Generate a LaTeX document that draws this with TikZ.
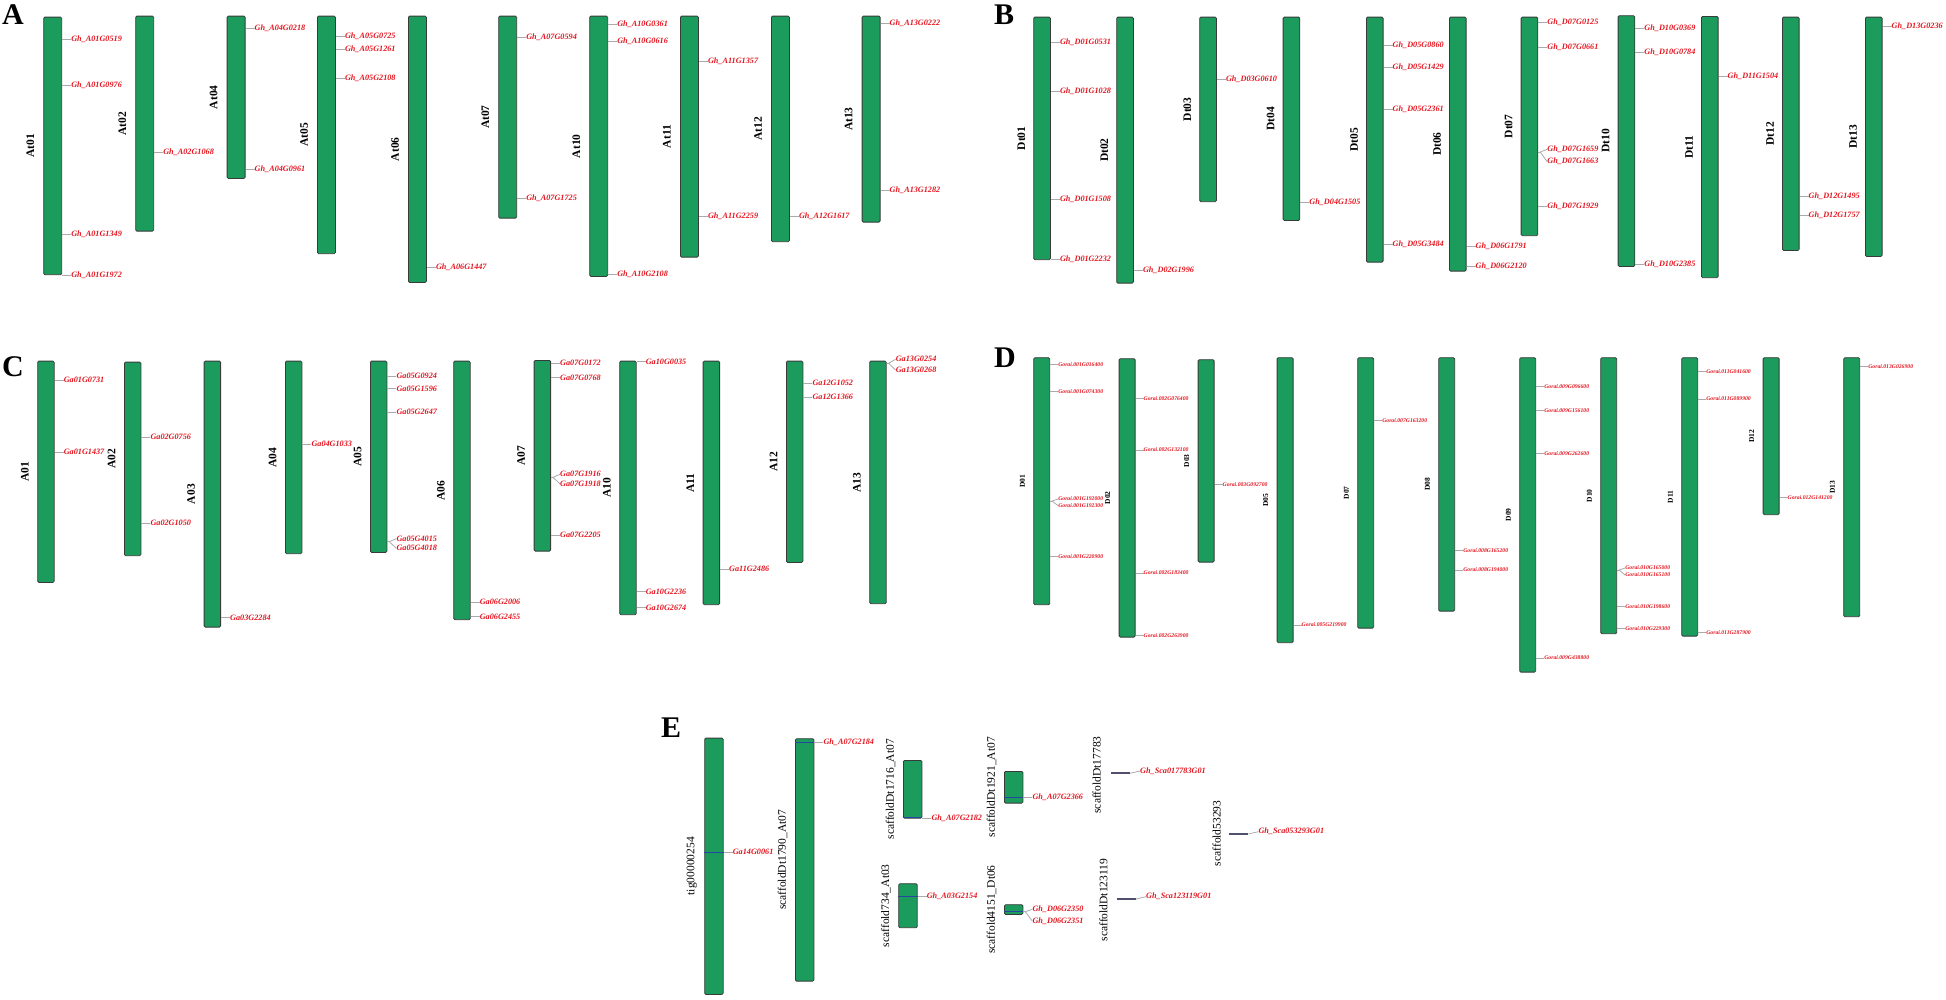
\documentclass[tikz,border=0pt]{standalone}
\usepackage{fontspec}
\setmainfont{Liberation Serif}
\definecolor{chrgreen}{RGB}{28,156,92}
\definecolor{chrborder}{RGB}{55,60,58}
\definecolor{genered}{RGB}{228,22,32}
\definecolor{tickgray}{RGB}{170,170,170}
\definecolor{hitblue}{RGB}{40,70,160}
\definecolor{scafgray}{RGB}{80,80,110}

\tikzset{
  chrom/.style={draw=chrborder, fill=chrgreen, line width=0.8pt, rounded corners=1.2pt,
    minimum width=18pt, inner sep=0pt},
  chrlab/.style={rotate=90, inner sep=0pt, font=\fontsize{11.5}{12}\selectfont\bfseries},
  gene/.style={anchor=west, xshift=9pt, inner sep=0pt, text=genered,
    font=\fontsize{8.2}{9}\selectfont\bfseries\itshape},
  genetick/.style={draw=tickgray, line width=0.8pt},
  hitline/.style={draw=hitblue, line width=0.9pt},
  scafline/.style={draw=scafgray, line width=1.8pt},
  panel/.style={anchor=base west, inner sep=0pt, font=\fontsize{30}{30}\selectfont\bfseries}
}

\begin{document}
\begin{tikzpicture}[x=1pt, y=-1pt]
\newcommand{\laboff}{13pt}
\newcommand{\chrom}[5]{%
  \node[chrom, minimum height={#4-#3}, anchor=north west] (#1) at (#2,#3) {};
  \node[chrlab] (#1-lab) at ([xshift=-\laboff]#1.west) {#5};}
\newcommand{\genes}[2]{%
  \foreach \gy/\gname [count=\gi] in {#2} {
    \coordinate (#1-t\gi) at (#1.east |- 0,\gy);
    \node[gene] (#1-g\gi) at (#1-t\gi) {\gname};
    \draw[genetick] (#1-t\gi) -- (#1-g\gi.west);}}
\newcommand{\genepair}[6]{%
  \coordinate (#1-s) at (#1.east |- 0,#2);
  \coordinate (#1-s1) at (#1.east |- 0,#3);
  \coordinate (#1-s2) at (#1.east |- 0,#5);
  \node[gene] (#1-p1) at (#1-s1) {#4};
  \node[gene] (#1-p2) at (#1-s2) {#6};
  \draw[genetick] (#1-p1.west) -- ([xshift=2pt]#1-s) -- (#1-p2.west);
  \draw[genetick] (#1-s) -- ([xshift=2pt]#1-s);}
\newcommand{\hit}[2]{\draw[hitline] (#1.west |- 0,#2) -- (#1.east |- 0,#2);}

\useasboundingbox (0,0) rectangle (1946,999);

\node[panel] (pA) at (2,24) {A};
\node[panel] (pB) at (994,24) {B};
\node[panel] (pC) at (2,376) {C};
\node[panel] (pD) at (994,367) {D};
\node[panel] (pE) at (661,737) {E};

% A
\chrom{At01}{43.3}{16.7}{274.3}{At01}
\genes{At01}{39/Gh\_A01G0519, 85.7/Gh\_A01G0976, 234/Gh\_A01G1349, 275/Gh\_A01G1972}
\chrom{At02}{135.3}{15.7}{230.7}{At02}
\genes{At02}{152.7/Gh\_A02G1068}
\chrom{At04}{226.7}{15.7}{178}{At04}
\genes{At04}{28/Gh\_A04G0218, 169.7/Gh\_A04G0961}
\chrom{At05}{317}{15.7}{253.3}{At05}
\genes{At05}{36/Gh\_A05G0725, 49.7/Gh\_A05G1261, 78.3/Gh\_A05G2108}
\chrom{At06}{408}{15.7}{282}{At06}
\genes{At06}{267.7/Gh\_A06G1447}
\chrom{At07}{498.3}{15.7}{217.7}{At07}
\genes{At07}{37.7/Gh\_A07G0594, 198.7/Gh\_A07G1725}
\chrom{At10}{589.3}{15.7}{276}{At10}
\genes{At10}{24.7/Gh\_A10G0361, 41.3/Gh\_A10G0616, 274.3/Gh\_A10G2108}
\chrom{At11}{680}{15.7}{256.7}{At11}
\genes{At11}{61/Gh\_A11G1357, 216.7/Gh\_A11G2259}
\chrom{At12}{771}{15.7}{241.3}{At12}
\genes{At12}{216/Gh\_A12G1617}
\chrom{At13}{861.7}{15.7}{221.7}{At13}
\genes{At13}{23.3/Gh\_A13G0222, 190/Gh\_A13G1282}

% B
\begin{scope}[chrom/.append style={minimum width=16.7pt}]
\renewcommand{\laboff}{12pt}
\chrom{Dt01}{1033.3}{16.7}{259.3}{Dt01}
\genes{Dt01}{42.7/Gh\_D01G0531, 91.3/Gh\_D01G1028, 199.3/Gh\_D01G1508, 259.3/Gh\_D01G2232}
\chrom{Dt02}{1116.3}{16.7}{282.7}{Dt02}
\genes{Dt02}{270.7/Gh\_D02G1996}
\chrom{Dt03}{1199.3}{16.7}{201.3}{Dt03}
\genes{Dt03}{79.7/Gh\_D03G0610}
\chrom{Dt04}{1282.7}{16.7}{220}{Dt04}
\genes{Dt04}{202.3/Gh\_D04G1505}
\chrom{Dt05}{1366}{16.7}{261.7}{Dt05}
\genes{Dt05}{45.3/Gh\_D05G0860, 67.3/Gh\_D05G1429, 109.7/Gh\_D05G2361, 244/Gh\_D05G3484}
\chrom{Dt06}{1449}{16.7}{270.7}{Dt06}
\genes{Dt06}{246/Gh\_D06G1791, 266.7/Gh\_D06G2120}
\chrom{Dt07}{1520.7}{16.7}{235.3}{Dt07}
\genes{Dt07}{22/Gh\_D07G0125, 47.3/Gh\_D07G0661, 206/Gh\_D07G1929}
\genepair{Dt07}{152}{149.3}{Gh\_D07G1659}{161.7}{Gh\_D07G1663}
\chrom{Dt10}{1617.7}{15.3}{266}{Dt10}
\genes{Dt10}{28.7/Gh\_D10G0369, 52.7/Gh\_D10G0784, 264.3/Gh\_D10G2385}
\chrom{Dt11}{1701}{16}{277.3}{Dt11}
\genes{Dt11}{76/Gh\_D11G1504}
\chrom{Dt12}{1782}{16.7}{250}{Dt12}
\genes{Dt12}{196.7/Gh\_D12G1495, 215/Gh\_D12G1757}
\chrom{Dt13}{1865}{16.7}{256}{Dt13}
\genes{Dt13}{26/Gh\_D13G0236}
\end{scope}

% C
\begin{scope}[chrom/.append style={minimum width=16.5pt}]
\renewcommand{\laboff}{12.5pt}
\chrom{A01}{37.3}{360.7}{582}{A01}
\genes{A01}{380/Ga01G0731, 452.3/Ga01G1437}
\chrom{A02}{124}{361.7}{555.3}{A02}
\genes{A02}{437/Ga02G0756, 523.3/Ga02G1050}
\chrom{A03}{203.7}{360.7}{626.7}{A03}
\genes{A03}{617.7/Ga03G2284}
\chrom{A04}{285}{360.7}{553.3}{A04}
\genes{A04}{444.3/Ga04G1033}
\chrom{A05}{370}{360.7}{552}{A05}
\genes{A05}{376/Ga05G0924, 388.7/Ga05G1596, 412.3/Ga05G2647}
\genepair{A05}{541.7}{538.7}{Ga05G4015}{548.3}{Ga05G4018}
\chrom{A06}{453.3}{360.7}{619.3}{A06}
\genes{A06}{602.3/Ga06G2006, 616.7/Ga06G2455}
\chrom{A07}{533.7}{360}{550.7}{A07}
\genes{A07}{363.3/Ga07G0172, 377.7/Ga07G0768, 535/Ga07G2205}
\genepair{A07}{477.3}{474.3}{Ga07G1916}{484}{Ga07G1918}
\chrom{A10}{619.3}{360.7}{614.3}{A10}
\genes{A10}{361.7/Ga10G0035, 591.7/Ga10G2236, 607.7/Ga10G2674}
\chrom{A11}{702.7}{360.7}{604.3}{A11}
\genes{A11}{569.3/Ga11G2486}
\chrom{A12}{786}{360.7}{562}{A12}
\genes{A12}{383/Ga12G1052, 397/Ga12G1366}
\chrom{A13}{869.3}{360.7}{603.3}{A13}
\genepair{A13}{363.3}{359.3}{Ga13G0254}{370}{Ga13G0268}
\end{scope}

% D
\begin{scope}[chrom/.append style={minimum width=16pt},
  chrlab/.append style={font=\fontsize{7.5}{8}\selectfont\bfseries},
  gene/.append style={xshift=-1pt, font=\fontsize{5.7}{6}\selectfont\bfseries\itshape}]
\renewcommand{\laboff}{11pt}
\chrom{D01}{1033.3}{357.3}{604.3}{D01}
\genes{D01}{364.3/Gorai.001G016400, 391.3/Gorai.001G074300, 556.3/Gorai.001G220900}
\genepair{D01}{501}{499}{Gorai.001G192000}{505.7}{Gorai.001G192300}
\chrom{D02}{1118.7}{358.3}{636.7}{D02}
\genes{D02}{398.3/Gorai.002G076400, 450/Gorai.002G132100, 573/Gorai.002G183400, 635.7/Gorai.002G263900}
\chrom{D03}{1197.7}{359.3}{561.7}{D03}
\genes{D03}{484.3/Gorai.003G092700}
\chrom{D05}{1276.7}{357.3}{642.3}{D05}
\genes{D05}{625/Gorai.005G219900}
\chrom{D07}{1357.3}{357.3}{627.7}{D07}
\genes{D07}{420.7/Gorai.007G163200}
\chrom{D08}{1438.3}{357.3}{610.7}{D08}
\genes{D08}{550.7/Gorai.008G165200, 570/Gorai.008G194000}
\chrom{D09}{1519.3}{357.3}{671.7}{D09}
\genes{D09}{386.7/Gorai.009G096600, 410.7/Gorai.009G156100, 453.7/Gorai.009G262600, 658/Gorai.009G438800}
\chrom{D10}{1600.3}{357.3}{633.3}{D10}
\genes{D10}{606.7/Gorai.010G198600, 628.3/Gorai.010G229300}
\genepair{D10}{570}{568}{Gorai.010G165000}{575}{Gorai.010G165100}
\chrom{D11}{1681.3}{357.3}{635.7}{D11}
\genes{D11}{371.7/Gorai.011G041600, 399/Gorai.011G089900, 632.7/Gorai.011G287900}
\chrom{D12}{1762.7}{357.3}{514.3}{D12}
\genes{D12}{497.3/Gorai.012G141200}
\chrom{D13}{1843.3}{357.3}{616.3}{D13}
\genes{D13}{366.7/Gorai.013G026900}
\end{scope}

% E
\begin{scope}[chrom/.append style={minimum width=18.5pt},
  chrlab/.append style={font=\fontsize{11.5}{12}\selectfont}]
\renewcommand{\laboff}{12.5pt}
\chrom{Etig}{704.3}{737.7}{994}{tig00000254}
\hit{Etig}{852.3}
\genes{Etig}{852.3/Ga14G0061}
\chrom{E1790}{795}{738.3}{980.7}{scaffoldDt1790\_At07}
\hit{E1790}{742.7}
\genes{E1790}{742.7/Gh\_A07G2184}
\chrom{E1716}{903}{760}{817.7}{scaffoldDt1716\_At07}
\hit{E1716}{817}
\genes{E1716}{818/Gh\_A07G2182}
\chrom{E734}{898.3}{883.3}{927.3}{scaffold734\_At03}
\hit{E734}{896.7}
\genes{E734}{896.7/Gh\_A03G2154}
\chrom{E1921}{1004}{771}{802.7}{scaffoldDt1921\_At07}
\hit{E1921}{797.3}
\genes{E1921}{797.3/Gh\_A07G2366}
\chrom{E4151}{1004}{904.3}{914}{scaffold4151\_Dt06}
\hit{E4151}{911.7}
\genepair{E4151}{911.7}{909.3}{Gh\_D06G2350}{921}{Gh\_D06G2351}

\node[chrlab] (E17783-lab) at (1096.7,775) {scaffoldDt17783};
\coordinate (E17783a) at (1111,773.3);
\coordinate (E17783b) at (1130,773.3);
\draw[scafline] (E17783a) -- (E17783b);
\node[gene] (E17783-g) at (1131,771) {Gh\_Sca017783G01};
\draw[genetick] (E17783b) -- (E17783-g.west);

\node[chrlab] (E123119-lab) at (1103.3,900) {scaffoldDt123119};
\coordinate (E123119a) at (1116.7,899);
\coordinate (E123119b) at (1136,899);
\draw[scafline] (E123119a) -- (E123119b);
\node[gene] (E123119-g) at (1137,896.7) {Gh\_Sca123119G01};
\draw[genetick] (E123119b) -- (E123119-g.west);

\node[chrlab] (E53293-lab) at (1216.7,833.3) {scaffold53293};
\coordinate (E53293a) at (1229.3,834);
\coordinate (E53293b) at (1248.3,834);
\draw[scafline] (E53293a) -- (E53293b);
\node[gene] (E53293-g) at (1249.3,831.7) {Gh\_Sca053293G01};
\draw[genetick] (E53293b) -- (E53293-g.west);
\end{scope}

\end{tikzpicture}
\end{document}
